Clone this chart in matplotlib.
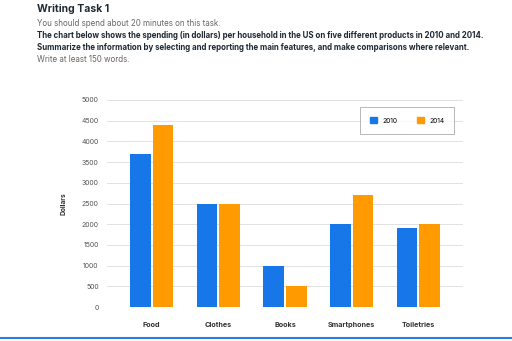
import matplotlib
matplotlib.use("Agg")
import matplotlib.pyplot as plt
import numpy as np
from matplotlib.patches import Patch

categories = ["Food", "Clothes", "Books", "Smartphones", "Toiletries"]
spend_2010 = [3700, 2500, 1000, 2000, 1900]
spend_2014 = [4400, 2500, 500, 2700, 2000]
y_ticks = list(range(0, 5001, 500))

blue = "#1877e8"
orange = "#ff9b00"

plt.rcParams["font.family"] = ["Inter", "DejaVu Sans"]

W, H = 512, 341
fig = plt.figure(figsize=(W / 100, H / 100), dpi=100)
fig.patch.set_facecolor("white")

def fx(px):
    return px / W

def fy(py):
    return 1 - py / H

fig.text(fx(37), fy(9), "Writing Task 1", fontsize=7.5, fontweight="bold",
         color="#1f2933", va="center", ha="left")
fig.text(fx(37), fy(24), "You should spend about 20 minutes on this task.",
         fontsize=5.75, color="#666666", va="center", ha="left")
fig.text(fx(37), fy(36),
         "The chart below shows the spending (in dollars) per household in the US on five different products in 2010 and 2014.",
         fontsize=5.7, fontweight="bold", color="#1f2933", va="center", ha="left")
fig.text(fx(37), fy(48),
         "Summarize the information by selecting and reporting the main features, and make comparisons where relevant.",
         fontsize=5.7, fontweight="bold", color="#1f2933", va="center", ha="left")
fig.text(fx(37), fy(60), "Write at least 150 words.",
         fontsize=5.75, color="#666666", va="center", ha="left")

ax_left, ax_right = 107, 463
ax_top, ax_bottom = 100, 307
ax = fig.add_axes([fx(ax_left), fy(ax_bottom), fx(ax_right - ax_left),
                   (ax_bottom - ax_top) / H])

x = np.arange(len(categories))
w = 0.31
ax.bar(x - w / 2 - 0.015, spend_2010, width=w, color=blue, zorder=3)
ax.bar(x + w / 2 + 0.015, spend_2014, width=w, color=orange, zorder=3)

ax.set_xlim(-0.67, 4.67)
ax.set_ylim(0, 5000)
ax.set_yticks(y_ticks)
ax.set_yticklabels([str(v) for v in y_ticks], fontsize=5.0, color="#555555")
ax.set_xticks(x)
ax.set_xticklabels(categories, fontsize=5.2, fontweight="bold", color="#333333")
ax.tick_params(axis="both", length=0)
ax.tick_params(axis="y", pad=6)
ax.tick_params(axis="x", pad=11)
ax.grid(axis="y", color="#dddddd", linewidth=0.6, zorder=0)
for s in ax.spines.values():
    s.set_visible(False)
ax.set_ylabel("Dollars", fontsize=4.8, fontweight="bold", color="#333333", labelpad=11)

handles = [Patch(color=blue, label="2010"), Patch(color=orange, label="2014")]
leg = ax.legend(handles=handles, loc="upper right", bbox_to_anchor=(0.985, 0.98),
                ncol=2, fontsize=4.8, frameon=True, fancybox=False,
                edgecolor="#999999", handlelength=1.0, handleheight=1.0,
                borderpad=1.5, columnspacing=3.0, handletextpad=0.8)
leg.get_frame().set_linewidth(0.6)

# bottom accent line
fig.add_artist(plt.Line2D([0, 1], [fy(338), fy(338)], color="#2b7de9",
                          linewidth=1.5, transform=fig.transFigure))

fig.savefig("out.png", dpi=100, facecolor="white")
